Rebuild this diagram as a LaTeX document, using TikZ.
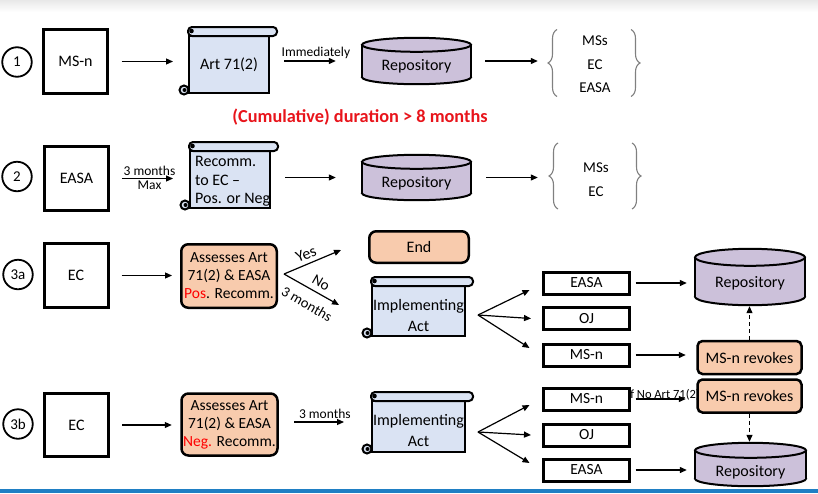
\documentclass[tikz,border=0pt]{standalone}
\usepackage{fontspec}
\setmainfont{Carlito}
\usetikzlibrary{arrows.meta,decorations.pathreplacing}
\definecolor{scrollfill}{HTML}{DAE3F3}
\definecolor{cylfill}{HTML}{CCC1DA}
\definecolor{orangefill}{HTML}{F8CBAD}
\definecolor{barblue}{HTML}{1F7FC4}
\definecolor{durred}{HTML}{E8141B}
\definecolor{bracegray}{HTML}{808080}
\pgfdeclarelayer{bg}
\pgfsetlayers{bg,main}
\newcommand\scrolldeco[1]{%
  \draw[line width=2pt, fill=scrollfill, rounded corners=4pt] ([yshift=-1pt]#1.north west) rectangle ([xshift=7pt,yshift=8pt]#1.north east);
  \fill ([xshift=3.5pt,yshift=4pt]#1.north west) circle[radius=2.3pt];
  \draw[line width=2pt, fill=scrollfill] ([xshift=-4pt,yshift=4pt]#1.south west) circle[radius=4.5pt];
  \fill ([xshift=-3.5pt,yshift=4pt]#1.south west) circle[radius=2pt];
}
\newcommand\cyldeco[3]{%
  \draw[line width=2pt, fill=cylfill] ([yshift=#3]#1.south) ellipse[x radius=#2, y radius=#3];
  \fill[cylfill] ([yshift=-#3]#1.north west) rectangle ([yshift=#3]#1.south east);
  \draw[line width=2pt] ([yshift=-#3]#1.north west) -- ([yshift=#3]#1.south west);
  \draw[line width=2pt] ([yshift=-#3]#1.north east) -- ([yshift=#3]#1.south east);
  \draw[line width=2pt, fill=cylfill] ([yshift=-#3]#1.north) ellipse[x radius=#2, y radius=#3];
}
\tikzset{
  numc/.style={circle, draw, line width=1.8pt, minimum size=29.5pt, inner sep=0pt, font=\fontsize{15}{18}\selectfont},
  actor/.style={rectangle, draw, line width=3pt, minimum width=64pt, minimum height=64pt, inner sep=0pt, font=\fontsize{16}{19}\selectfont},
  scrollbody/.style={rectangle, draw, line width=2pt, fill=scrollfill, inner sep=0pt},
  txt/.style={font=\fontsize{16}{19}\selectfont, inner sep=0pt},
  cylbox/.style={rectangle, inner sep=0pt},
  obox/.style={rectangle, rounded corners=7pt, draw, line width=2.5pt, fill=orangefill, align=center, inner sep=0pt, font=\fontsize{15.5}{18}\selectfont},
  tbox/.style={rectangle, draw, line width=3pt, fill=white, minimum width=86pt, minimum height=22pt, inner sep=0pt, font=\fontsize{15.5}{18}\selectfont},
  rbox/.style={rectangle, rounded corners=5pt, draw, line width=2.5pt, fill=orangefill, minimum width=104pt, minimum height=33pt, inner sep=0pt, font=\fontsize{16}{19}\selectfont},
  arr/.style={-{Triangle[length=7pt,width=6pt]}, line width=1.2pt},
  darr/.style={arr, dash pattern=on 4pt off 3pt},
  lbl/.style={font=\fontsize{13.5}{16}\selectfont, inner sep=2pt},
  slbl/.style={font=\fontsize{15}{18}\selectfont, inner sep=0pt},
  rcp/.style={align=center, inner sep=0pt, minimum width=96pt, font=\fontsize{15}{23.5}\selectfont},
  brc/.style={decorate, decoration={brace, amplitude=9pt}, draw=bracegray, line width=1.1pt},
}
\begin{document}
\begin{tikzpicture}[x=1pt,y=-1pt]
\useasboundingbox (0,0) rectangle (818,493);
\shade[top color=black!9, bottom color=white] (0,0) rectangle (818,12);
\fill[barblue] (0,489) rectangle (818,493);

% ---------- Row 1 ----------
\node[numc] (c1) at (17,62) {1};
\node[actor] (a1) at (75.5,61.5) {MS-n};
\node[scrollbody, minimum width=80pt, minimum height=57pt] (s1) at (229,64.5) {};
\scrolldeco{s1}
\node[txt] at (s1.center) {Art 71(2)};
\node[cylbox, minimum width=109pt, minimum height=46pt] (p1) at (416.5,61) {};
\begin{pgfonlayer}{bg}\cyldeco{p1}{54.5pt}{7pt}\end{pgfonlayer}
\node[txt] at ([yshift=-5pt]p1.center) {Repository};
\node[rcp] (r1) at (595,64.5) {MSs\\EC\\EASA};
\draw[brc] ([xshift=-38pt,yshift=-32pt]r1.center) -- ([xshift=-38pt,yshift=35pt]r1.center);
\draw[brc] ([xshift=36pt,yshift=35pt]r1.center) -- ([xshift=36pt,yshift=-32pt]r1.center);

\draw[arr, shorten <=12.5pt, shorten >=15pt] (a1.east) -- (a1.east -| s1.west);
\draw[arr, shorten <=14pt, shorten >=26pt] (s1.east |- p1.west) -- node[lbl, above] {Immediately} (p1.west);
\draw[arr, shorten <=14pt, shorten >=9pt] (p1.east) -- (p1.east -| r1.west);

\node[font=\bfseries\fontsize{18.3}{21}\selectfont, text=durred] (dur) at (360,117) {(Cumulative) duration > 8 months};

% ---------- Row 2 ----------
\node[numc] (c2) at (17,176.5) {2};
\node[actor] (a2) at (76.5,178.5) {EASA};
\node[scrollbody, minimum width=80pt, minimum height=57pt] (s2) at (230,179.5) {};
\scrolldeco{s2}
\node[txt, align=left, anchor=west, font=\fontsize{16}{18.5}\selectfont] at ([xshift=6pt,yshift=-2pt]s2.west) {Recomm.\\to EC –\\Pos. or Neg};
\node[cylbox, minimum width=109pt, minimum height=45pt] (p2) at (416.5,177.5) {};
\begin{pgfonlayer}{bg}\cyldeco{p2}{54.5pt}{7pt}\end{pgfonlayer}
\node[txt] at ([yshift=-5.5pt]p2.center) {Repository};
\node[rcp] (r2) at (596,179.5) {MSs\\EC};
\draw[brc] ([xshift=-38pt,yshift=-29.5pt]r2.center) -- ([xshift=-38pt,yshift=36.5pt]r2.center);
\draw[brc] ([xshift=36pt,yshift=36.5pt]r2.center) -- ([xshift=36pt,yshift=-29.5pt]r2.center);

\draw[arr, shorten <=12pt, shorten >=16pt] (a2.east) -- node[lbl, above] {3 months} node[lbl, below] {Max} (a2.east -| s2.west);
\draw[arr, shorten <=14pt, shorten >=26pt] (s2.east |- p2.west) -- (p2.west);
\draw[arr, shorten <=15pt, shorten >=10pt] (p2.east) -- (p2.east -| r2.west);

% ---------- Row 3a ----------
\node[numc] (c3a) at (18,274.5) {3a};
\node[actor] (a3a) at (76,275.5) {EC};
\node[obox, minimum width=95.5pt, minimum height=63.5pt] (o3a) at (229,276) {Assesses Art\\71(2) \& EASA\\\textcolor{red}{Pos}. Recomm.};
\node[obox, minimum width=99.5pt, minimum height=31.5pt, font=\fontsize{16}{19}\selectfont] (end) at (419,247) {End};
\node[scrollbody, minimum width=93pt, minimum height=50pt] (s3a) at (418.5,311) {};
\scrolldeco{s3a}
\node[txt, align=center, font=\fontsize{16}{21}\selectfont] at ([yshift=-4.5pt]s3a.center) {Implementing\\Act};
\node[tbox] (ea3a) at (586.5,283) {EASA};
\node[tbox] (oj3a) at (586.5,318.5) {OJ};
\node[tbox] (ms3a) at (586.5,355) {MS-n};
\node[cylbox, minimum width=110pt, minimum height=56pt] (p3a) at (750,277) {};
\begin{pgfonlayer}{bg}\cyldeco{p3a}{55pt}{8.5pt}\end{pgfonlayer}
\node[txt] at ([yshift=-6pt]p3a.center) {Repository};
\node[rbox] (rv3a) at (749.5,357.5) {MS-n revokes};

\coordinate (f3a) at ([xshift=6pt,yshift=2pt]o3a.east);
\coordinate (yesend) at ([xshift=-27pt,yshift=-3pt]end.west);
\coordinate (noend) at ([xshift=-32pt,yshift=6pt]s3a.west);
\draw[arr, shorten <=12pt, shorten >=8pt] (a3a.east) -- (a3a.east -| o3a.west);
\draw[arr] (f3a) -- (yesend);
\draw[arr] (f3a) -- (noend);
\node[slbl, rotate=21, font=\fontsize{16}{18}\selectfont] (yes) at (306,254.5) {Yes};
\node[slbl, rotate=-30] (no) at (321,283) {No};
\node[slbl, rotate=-30, font=\fontsize{14.5}{17}\selectfont] (thm) at (307,304) {3 months};

\coordinate (g3a) at ([xshift=12pt,yshift=-4pt]s3a.east);
\draw[arr] (g3a) -- ([xshift=-12.5pt,yshift=-7pt]ea3a.west);
\draw[arr] (g3a) -- ([xshift=-11pt]oj3a.west);
\draw[arr] (g3a) -- ([xshift=-12.5pt,yshift=7pt]ms3a.west);
\draw[arr, shorten <=4.5pt, shorten >=8pt] (ea3a.east) -- (ea3a.east -| p3a.west);
\draw[arr, shorten <=4.5pt, shorten >=10.5pt] (ms3a.east) -- (ms3a.east -| rv3a.west);
\draw[darr, shorten >=1pt] (rv3a.north) -- (rv3a.north |- p3a.south);

% ---------- Row 3b ----------
\node[numc] (c3b) at (18,424) {3b};
\node[actor, minimum height=63pt] (a3b) at (76.5,425) {EC};
\node[obox, minimum width=96pt, minimum height=62pt] (o3b) at (229.5,424.5) {Assesses Art\\71(2) \& EASA\\\textcolor{red}{Neg.} Recomm.};
\node[scrollbody, minimum width=93pt, minimum height=51pt] (s3b) at (418.5,426.5) {};
\scrolldeco{s3b}
\node[txt, align=center, font=\fontsize{16}{21}\selectfont] at ([yshift=-4pt]s3b.center) {Implementing\\Act};

\begin{pgfonlayer}{bg}
\node[font=\fontsize{12.5}{14}\selectfont, anchor=base west, inner sep=0pt] (ifno) at (627,398) {If No Art 71(2)};
\end{pgfonlayer}
\node[tbox] (ms3b) at (586.5,399) {MS-n};
\node[tbox] (oj3b) at (586.5,435) {OJ};
\node[tbox] (ea3b) at (586.5,470) {EASA};
\node[rbox] (rv3b) at (749.5,396) {MS-n revokes};
\node[cylbox, minimum width=111pt, minimum height=43pt] (p3b) at (750.5,464.5) {};
\begin{pgfonlayer}{bg}\cyldeco{p3b}{55.5pt}{7.5pt}\end{pgfonlayer}
\node[txt] at ([yshift=-7.5pt]p3b.center) {Repository};

\draw[arr, shorten <=12pt, shorten >=8.5pt] (a3b.east) -- (a3b.east -| o3b.west);
\coordinate (m3b) at ([yshift=2.5pt]o3b.east);
\draw[arr, shorten <=15.5pt, shorten >=27pt] (m3b) -- node[lbl, above=1pt] {3 months} (m3b -| s3b.west);
\coordinate (g3b) at ([xshift=12pt,yshift=-5.5pt]s3b.east);
\draw[arr] (g3b) -- ([xshift=-12.5pt,yshift=-6pt]ms3b.west);
\draw[arr] (g3b) -- ([xshift=-11pt]oj3b.west);
\draw[arr] (g3b) -- ([xshift=-12.5pt,yshift=7pt]ea3b.west);
\draw[arr, shorten <=4.5pt, shorten >=10.5pt] (ms3b.east) -- (ms3b.east -| rv3b.west);
\draw[arr, shorten <=4.5pt, shorten >=8pt] (ea3b.east) -- (ea3b.east -| p3b.west);
\draw[darr, shorten >=1pt] (rv3b.south) -- (rv3b.south |- p3b.north);
\end{tikzpicture}
\end{document}
